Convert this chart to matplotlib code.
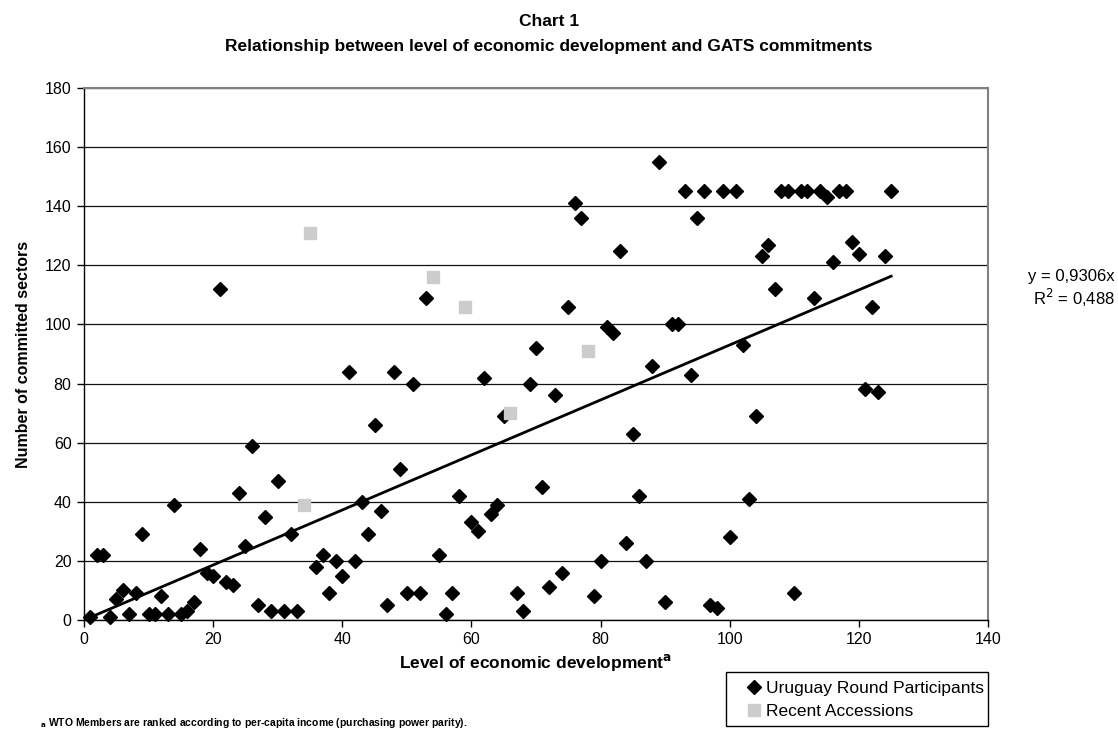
import matplotlib.pyplot as plt
from matplotlib.patches import Rectangle
import numpy as np

plt.rcParams['font.family'] = ['Liberation Sans', 'DejaVu Sans']

# Uruguay Round participants: rank (per-capita income) and committed sectors
ur_rank = list(range(1, 34)) + list(range(36, 54)) + [55, 56, 57, 58] + list(range(60, 66)) \
    + list(range(67, 78)) + list(range(79, 126))
ur_sectors = [1, 22, 22, 1, 7, 10, 2, 9, 29, 2, 2, 8, 2, 39, 2, 3, 6, 24, 16, 15,
              112, 13, 12, 43, 25, 59, 5, 35, 3, 47, 3, 29, 3,
              18, 22, 9, 20, 15, 84, 20, 40, 29, 66, 37, 5, 84, 51, 9, 80, 9, 109,
              22, 2, 9, 42,
              33, 30, 82, 36, 39, 69,
              9, 3, 80, 92, 45, 11, 76, 16, 106, 141, 136,
              8, 20, 99, 97, 125, 26, 63, 42, 20, 86, 155, 6, 100, 100, 145, 83, 136,
              145, 5, 4, 145, 28, 145, 93, 41, 69, 123, 127, 112, 145, 145, 9, 145,
              145, 109, 145, 143, 121, 145, 145, 128, 124, 78, 106, 77, 123, 145]

# Recent accessions
ra_rank = [34, 35, 54, 59, 66, 78]
ra_sectors = [39, 131, 116, 106, 70, 91]

slope = 0.9306
r2 = 0.488

W, H = 1118, 740
fig = plt.figure(figsize=(W / 100, H / 100), dpi=100)
ax = fig.add_axes([84 / W, 1 - 620 / H, 904 / W, 532 / H])

ax.set_xlim(0, 140)
ax.set_ylim(0, 180)
ax.set_xticks(np.arange(0, 141, 20))
ax.set_yticks(np.arange(0, 181, 20))
ax.yaxis.grid(True, color='#111111', lw=0.9)
ax.set_axisbelow(True)
for side in ['top', 'right']:
    ax.spines[side].set_color('#808080')
    ax.spines[side].set_linewidth(1.5)
for side in ['left', 'bottom']:
    ax.spines[side].set_color('black')
    ax.spines[side].set_linewidth(1.0)
ax.tick_params(direction='out', length=5, width=1, labelsize=11.5, pad=4)

# linear trend through the origin
xfit = np.array([min(ur_rank), max(ur_rank)])
ax.plot(xfit, slope * xfit, color='black', lw=2, zorder=3)

ax.plot(ur_rank, ur_sectors, 'D', color='black', ms=7, ls='none',
        label='Uruguay Round Participants', zorder=4, clip_on=False)
ax.plot(ra_rank, ra_sectors, 's', color='#CCCCCC', ms=8.5, ls='none',
        label='Recent Accessions', zorder=4)

ax.set_xlabel('Level of economic development$^{\\mathbf{a}}$', fontsize=12.5,
              fontweight='bold', labelpad=3)
ax.set_ylabel('Number of committed sectors', fontsize=11.5, fontweight='bold', labelpad=10)

fig.text(549 / W, 1 - 21 / H, 'Chart 1', ha='center', va='center',
         fontsize=12.5, fontweight='bold')
fig.text(549 / W, 1 - 46 / H,
         'Relationship between level of economic development and GATS commitments',
         ha='center', va='center', fontsize=12.5, fontweight='bold')

fig.text(1028 / W, 1 - 276 / H, 'y = 0,9306x', ha='left', va='center', fontsize=12)
fig.text(1033 / W, 1 - 298 / H, 'R$^{2}$ = 0,488', ha='left', va='center', fontsize=12)

# legend box drawn separately so the padding matches
fig.patches.append(Rectangle((726 / W, 1 - 726 / H), 262 / W, 54 / H,
                             transform=fig.transFigure, fill=False,
                             edgecolor='black', lw=1.0))
fig.legend(loc='upper left', bbox_to_anchor=(745 / W, 1 - 681 / H),
           frameon=False, fontsize=12.5, handlelength=1.0, handletextpad=0.2,
           borderpad=0, labelspacing=0.45, borderaxespad=0)

fig.text(40 / W, 1 - 723 / H,
         '$_{\\mathbf{a}}$ WTO Members are ranked according to per-capita income (purchasing power parity).',
         ha='left', va='center', fontsize=7.5, fontweight='bold')

fig.savefig('out.png', dpi=100)
